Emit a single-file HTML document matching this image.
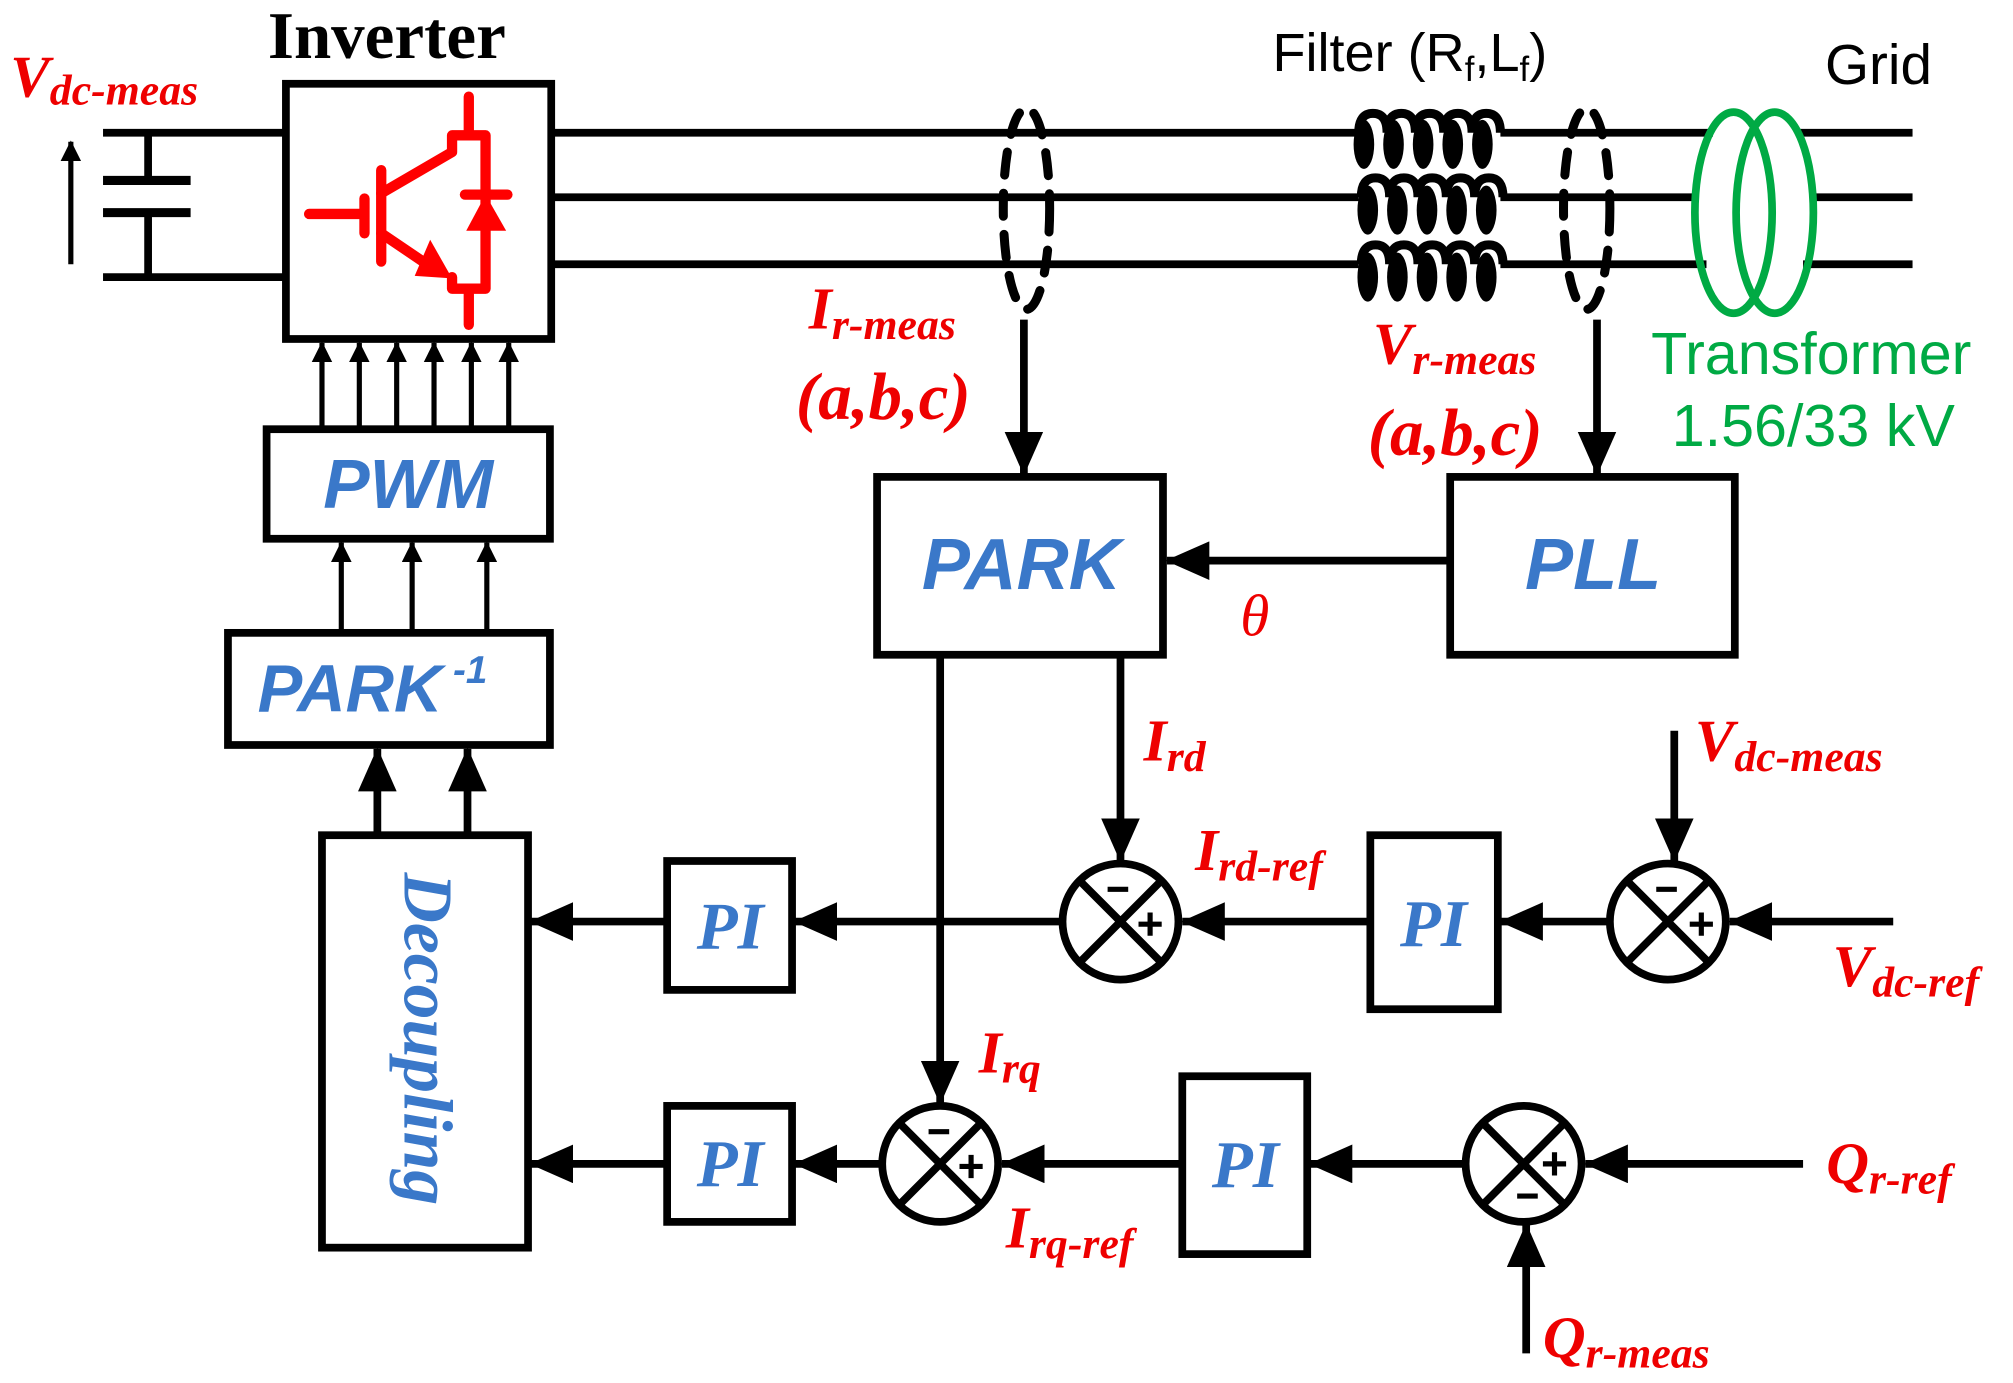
<!DOCTYPE html>
<html><head><meta charset="utf-8"><style>html,body{margin:0;padding:0;background:#fff}svg{display:block}</style></head><body>
<svg width="2013" height="1383" viewBox="0 0 1563 1073" preserveAspectRatio="none" xmlns="http://www.w3.org/2000/svg">
<defs>
<marker id="ah" markerWidth="16" markerHeight="16" refX="15" refY="8" orient="auto" markerUnits="userSpaceOnUse" viewBox="0 0 16 16"><path d="M0,0 L16,8 L0,16 z" fill="#000"/></marker>
<marker id="bh" markerWidth="34" markerHeight="30" refX="33" refY="15" orient="auto" markerUnits="userSpaceOnUse" viewBox="0 0 34 30"><path d="M0,0 L34,15 L0,30 z" fill="#000"/></marker>
</defs>
<g font-family="Liberation Serif, serif" font-style="italic" font-weight="bold" fill="#e00">
<text x="8" y="75" font-size="46">V<tspan font-size="34" dy="6">dc-meas</tspan></text>
<text x="628" y="255" font-size="46">I<tspan font-size="34" dy="8">r-meas</tspan></text>
<text x="618" y="325" font-size="52">(a,b,c)</text>
<text x="1066" y="282" font-size="46">V<tspan font-size="34" dy="8">r-meas</tspan></text>
<text x="1062" y="353" font-size="52">(a,b,c)</text>
<text x="963" y="493" font-size="46" font-weight="normal">θ</text>
<text x="888" y="590" font-size="46">I<tspan font-size="34" dy="8">rd</tspan></text>
<text x="928" y="675" font-size="46">I<tspan font-size="34" dy="8">rd-ref</tspan></text>
<text x="1316" y="590" font-size="46">V<tspan font-size="34" dy="8">dc-meas</tspan></text>
<text x="1423" y="765" font-size="46">V<tspan font-size="34" dy="8">dc-ref</tspan></text>
<text x="760" y="832" font-size="46">I<tspan font-size="34" dy="8">rq</tspan></text>
<text x="781" y="968" font-size="46">I<tspan font-size="34" dy="8">rq-ref</tspan></text>
<text x="1418" y="918" font-size="46">Q<tspan font-size="34" dy="8">r-ref</tspan></text>
<text x="1198" y="1053" font-size="46">Q<tspan font-size="34" dy="8">r-meas</tspan></text>
</g>
<text x="208" y="45" font-family="Liberation Serif, serif" font-weight="bold" font-size="52">Inverter</text>
<text x="988" y="55" font-family="Liberation Sans, sans-serif" font-size="42">Filter (R<tspan font-size="27" dy="8">f</tspan><tspan dy="-8">,L</tspan><tspan font-size="27" dy="8">f</tspan><tspan dy="-8">)</tspan></text>
<text x="1417" y="65" font-family="Liberation Sans, sans-serif" font-size="44">Grid</text>
<text x="1282" y="290" font-family="Liberation Sans, sans-serif" font-size="46" fill="#0a4">Transformer</text>
<text x="1298" y="346" font-family="Liberation Sans, sans-serif" font-size="46" fill="#0a4">1.56/33 kV</text>

<g stroke="#000" stroke-width="6" fill="none">
<path d="M80,103 H220 M80,215 H220 M115,103 V140 M115,165 V215"/>
<path d="M80,140 H148 M80,165 H148" stroke-width="7"/>
<line x1="55" y1="205" x2="55" y2="110" stroke-width="4" marker-end="url(#ah)"/>
<rect x="222" y="65" width="206" height="198"/>
<path d="M428,103 H1055 M1165,103 H1330 M428,153 H1055 M1165,153 H1315 M428,205 H1055 M1165,205 H1325"/>
<path d="M1395,103 H1485 M1410,153 H1485 M1400,205 H1485"/>
</g>
<!-- inductors -->
<g stroke="#000" stroke-width="7" fill="none">
<path d="M1055,103 q0,-15 11,-15 q11,0 11,15 q0,-15 11,-15 q11,0 11,15 q0,-15 11,-15 q11,0 11,15 q0,-15 11,-15 q11,0 11,15 q0,-15 11,-15 q11,0 11,15"/>
<path d="M1057,153 q0,-15 11,-15 q11,0 11,15 q0,-15 11,-15 q11,0 11,15 q0,-15 11,-15 q11,0 11,15 q0,-15 11,-15 q11,0 11,15 q0,-15 11,-15 q11,0 11,15"/>
<path d="M1057,205 q0,-15 11,-15 q11,0 11,15 q0,-15 11,-15 q11,0 11,15 q0,-15 11,-15 q11,0 11,15 q0,-15 11,-15 q11,0 11,15 q0,-15 11,-15 q11,0 11,15"/>
</g>
<g fill="#000">
<ellipse cx="1059" cy="112" rx="8" ry="19"/><ellipse cx="1082" cy="112" rx="8" ry="19"/><ellipse cx="1105" cy="112" rx="8" ry="19"/><ellipse cx="1128" cy="112" rx="8" ry="19"/><ellipse cx="1151" cy="112" rx="8" ry="19"/>
<ellipse cx="1062" cy="163" rx="8" ry="19"/><ellipse cx="1085" cy="163" rx="8" ry="19"/><ellipse cx="1108" cy="163" rx="8" ry="19"/><ellipse cx="1131" cy="163" rx="8" ry="19"/><ellipse cx="1154" cy="163" rx="8" ry="19"/>
<ellipse cx="1062" cy="215" rx="8" ry="19"/><ellipse cx="1085" cy="215" rx="8" ry="19"/><ellipse cx="1108" cy="215" rx="8" ry="19"/><ellipse cx="1131" cy="215" rx="8" ry="19"/><ellipse cx="1154" cy="215" rx="8" ry="19"/>
</g>
<g stroke="#000" stroke-width="7" fill="none" stroke-dasharray="18,14" stroke-linecap="round">
<ellipse cx="797" cy="162" rx="18" ry="78"/>
<ellipse cx="1232" cy="162" rx="18" ry="78"/>
</g>
<g stroke="#0a4" stroke-width="6" fill="none">
<ellipse cx="1346" cy="165" rx="30" ry="78"/>
<ellipse cx="1378" cy="165" rx="30" ry="78"/>
</g>
<!-- IGBT -->
<g stroke="#f00" stroke-width="8" fill="none" stroke-linecap="round" stroke-linejoin="round">
<path d="M240,166 H280 M283,154 V181 M296,132 V203"/>
<path d="M296,150 L351,118 V105 H377 V224 H351 V215"/>
<path d="M364,75 V105 M364,224 V252"/>
<path d="M296,181 L330,204"/>
<path d="M361,151 H394"/>
</g>
<path d="M377,151 L362,179 L393,179 z" fill="#f00"/>
<path d="M351,216 L322,214 L334,186 z" fill="#f00"/>
<!-- boxes -->
<g stroke="#000" stroke-width="6" fill="#fff">
<rect x="207" y="333" width="220" height="85"/>
<rect x="177" y="491" width="250" height="87"/>
<rect x="250" y="648" width="160" height="320"/>
<rect x="681" y="370" width="222" height="138"/>
<rect x="1126" y="370" width="221" height="138"/>
<rect x="518" y="668" width="97" height="100"/>
<rect x="1064" y="648" width="99" height="135"/>
<rect x="518" y="858" width="97" height="90"/>
<rect x="918" y="835" width="97" height="138"/>
</g>
<g font-family="Liberation Sans, sans-serif" font-style="italic" font-weight="bold" fill="#3a78c9">
<text x="317" y="394" font-size="54" text-anchor="middle">PWM</text>
<text x="200" y="552" font-size="52">PARK<tspan font-size="30" dy="-22"> -1</tspan></text>
<text x="793" y="457" font-size="56" text-anchor="middle">PARK</text>
<text x="1237" y="457" font-size="56" text-anchor="middle">PLL</text>
</g>
<g font-family="Liberation Serif, serif" font-style="italic" font-weight="bold" fill="#3a78c9" font-size="52" text-anchor="middle">
<text x="567" y="736">PI</text>
<text x="1113" y="734">PI</text>
<text x="567" y="920">PI</text>
<text x="967" y="921">PI</text>
<text transform="translate(314,806) rotate(90)" font-size="54">Decoupling</text>
</g>
<g stroke="#000" stroke-width="4" fill="none">
<line x1="250" y1="333" x2="250" y2="266" marker-end="url(#ah)"/>
<line x1="279" y1="333" x2="279" y2="266" marker-end="url(#ah)"/>
<line x1="308" y1="333" x2="308" y2="266" marker-end="url(#ah)"/>
<line x1="337" y1="333" x2="337" y2="266" marker-end="url(#ah)"/>
<line x1="366" y1="333" x2="366" y2="266" marker-end="url(#ah)"/>
<line x1="395" y1="333" x2="395" y2="266" marker-end="url(#ah)"/>
<line x1="265" y1="491" x2="265" y2="421" marker-end="url(#ah)"/>
<line x1="320" y1="491" x2="320" y2="421" marker-end="url(#ah)"/>
<line x1="378" y1="491" x2="378" y2="421" marker-end="url(#ah)"/>
</g>
<g stroke="#000" stroke-width="6" fill="none">
<line x1="293" y1="648" x2="293" y2="581" marker-end="url(#bh)"/>
<line x1="363" y1="648" x2="363" y2="581" marker-end="url(#bh)"/>
<line x1="795" y1="248" x2="795" y2="368" marker-end="url(#bh)"/>
<line x1="1240" y1="248" x2="1240" y2="368" marker-end="url(#bh)"/>
<line x1="1126" y1="435" x2="906" y2="435" marker-end="url(#bh)"/>
<line x1="870" y1="508" x2="870" y2="668" marker-end="url(#bh)"/>
<line x1="730" y1="508" x2="730" y2="856" marker-end="url(#bh)"/>
<line x1="825" y1="715" x2="617" y2="715" marker-end="url(#bh)"/>
<line x1="518" y1="715" x2="412" y2="715" marker-end="url(#bh)"/>
<line x1="1064" y1="715" x2="918" y2="715" marker-end="url(#bh)"/>
<line x1="1250" y1="715" x2="1165" y2="715" marker-end="url(#bh)"/>
<line x1="1470" y1="715" x2="1343" y2="715" marker-end="url(#bh)"/>
<line x1="1300" y1="567" x2="1300" y2="668" marker-end="url(#bh)"/>
<line x1="685" y1="903" x2="617" y2="903" marker-end="url(#bh)"/>
<line x1="518" y1="903" x2="412" y2="903" marker-end="url(#bh)"/>
<line x1="918" y1="903" x2="778" y2="903" marker-end="url(#bh)"/>
<line x1="1138" y1="903" x2="1017" y2="903" marker-end="url(#bh)"/>
<line x1="1400" y1="903" x2="1231" y2="903" marker-end="url(#bh)"/>
<line x1="1185" y1="1050" x2="1185" y2="950" marker-end="url(#bh)"/>
</g>
<g stroke="#000" stroke-width="6" fill="#fff">
<circle cx="870" cy="715" r="45"/>
<circle cx="1295" cy="715" r="45"/>
<circle cx="730" cy="903" r="45"/>
<circle cx="1183" cy="903" r="45"/>
</g>
<g stroke="#000" stroke-width="6">
<path d="M838,683 L902,747 M902,683 L838,747"/>
<path d="M1263,683 L1327,747 M1327,683 L1263,747"/>
<path d="M698,871 L762,935 M762,871 L698,935"/>
<path d="M1151,871 L1215,935 M1215,871 L1151,935"/>
</g>
<g stroke="#000" stroke-width="4">
<path d="M860,690 H876 M884,717 H902 M893,708 V726"/>
<path d="M1286,690 H1302 M1312,717 H1330 M1321,708 V726"/>
<path d="M721,878 H737 M745,905 H763 M754,896 V914"/>
<path d="M1178,928 H1194 M1198,903 H1216 M1207,894 V912"/>
</g>
</svg>
</body></html>
